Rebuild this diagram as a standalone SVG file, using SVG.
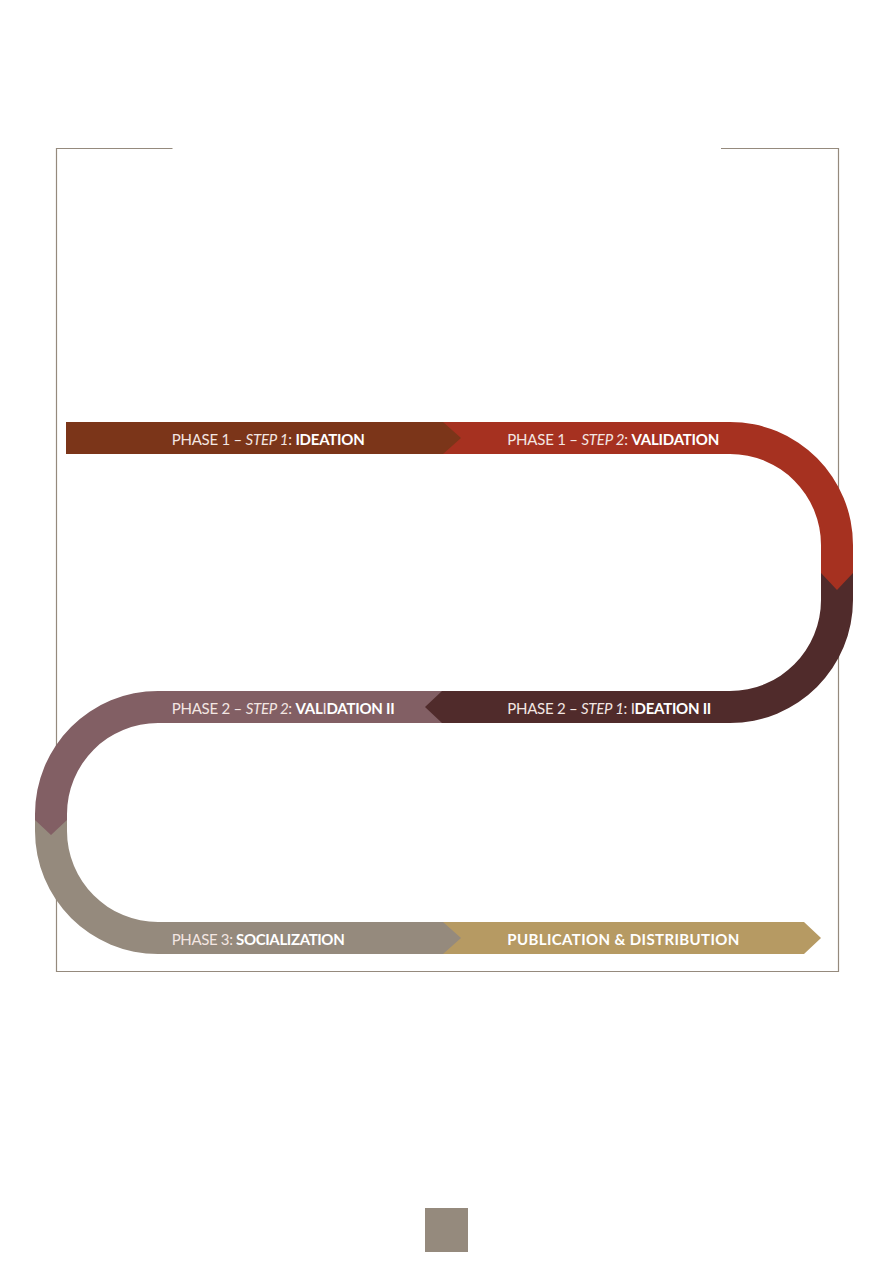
<svg xmlns="http://www.w3.org/2000/svg" width="893" height="1263" viewBox="0 0 893 1263">
<style>
.lbl{font-family:Lato,"Open Sans","Liberation Sans",sans-serif;font-size:15px;fill:#ffffff;}
.r{fill:#f3e6e2;font-weight:400;}
.i{fill:#f3e6e2;font-style:italic;font-weight:400;}
.b{font-weight:700;fill:#ffffff;}
</style>
<rect width="893" height="1263" fill="#ffffff"/>
<path id="frame" d="M172.5,148.5 H56.5 V971.5 H838.5 V148.5 H721" fill="none" stroke="#958a7d" stroke-width="1.2"/>
<g id="connectors">
<path id="gold" d="M443,922 H804 L821,938 L804,954 H443 Z" fill="#b69a63"/>
<path id="taupe" d="M35,820 V831 A123,123 0 0 0 158,954 H443 L461,938 L443,922 H158 A91,91 0 0 1 67,831 V820 Z" fill="#958a7d"/>
<path id="mauve" d="M442,691 H158 A123,123 0 0 0 35,814 V820 L51,835 L67,820 V814 A91,91 0 0 1 158,723 H442 Z" fill="#825f64"/>
<path id="dark" d="M853,573 V600 A123,123 0 0 1 730,723 H442 L425,707 L442,691 H730 A91,91 0 0 0 821,600 V573 Z" fill="#502b2b"/>
<path id="red" d="M443,422 H730 A123,123 0 0 1 853,545 V573 L837,590 L821,573 V545 A91,91 0 0 0 730,454 H443 Z" fill="#a63120"/>
<path id="brown" d="M66,422 H443 L461,438 L443,454 H66 Z" fill="#7b3519"/>
</g>
<g id="node-p1s1"><text class="lbl" x="171.7" y="444.8" textLength="193" lengthAdjust="spacing"><tspan class="r">PHASE 1 – </tspan><tspan class="i">STEP 1</tspan><tspan class="r">: </tspan><tspan class="b">IDEATION</tspan></text></g>
<g id="node-p1s2"><text class="lbl" x="507.3" y="444.8" textLength="212" lengthAdjust="spacing"><tspan class="r">PHASE 1 – </tspan><tspan class="i">STEP 2</tspan><tspan class="r">: </tspan><tspan class="b">VALIDATION</tspan></text></g>
<g id="node-p2s1"><text class="lbl" x="507.3" y="713.8" textLength="204" lengthAdjust="spacing"><tspan class="r">PHASE 2 – </tspan><tspan class="i">STEP 1</tspan><tspan class="r">: I</tspan><tspan class="b">DEATION II</tspan></text></g>
<g id="node-p2s2"><text class="lbl" x="171.7" y="713.8" textLength="223" lengthAdjust="spacing"><tspan class="r">PHASE 2 – </tspan><tspan class="i">STEP 2</tspan><tspan class="r">: </tspan><tspan class="b">VAL</tspan><tspan class="r">I</tspan><tspan class="b">DATION II</tspan></text></g>
<g id="node-p3"><text class="lbl" x="171.7" y="945.3" textLength="173" lengthAdjust="spacing"><tspan class="r">PHASE 3: </tspan><tspan class="b">SOCIALIZATION</tspan></text></g>
<g id="node-pub"><text class="lbl b" x="507.3" y="945.3" textLength="232" lengthAdjust="spacing">PUBLICATION &amp; DISTRIBUTION</text></g>
<rect id="page-marker" x="425" y="1208" width="43" height="44" fill="#958a7d"/>
</svg>
